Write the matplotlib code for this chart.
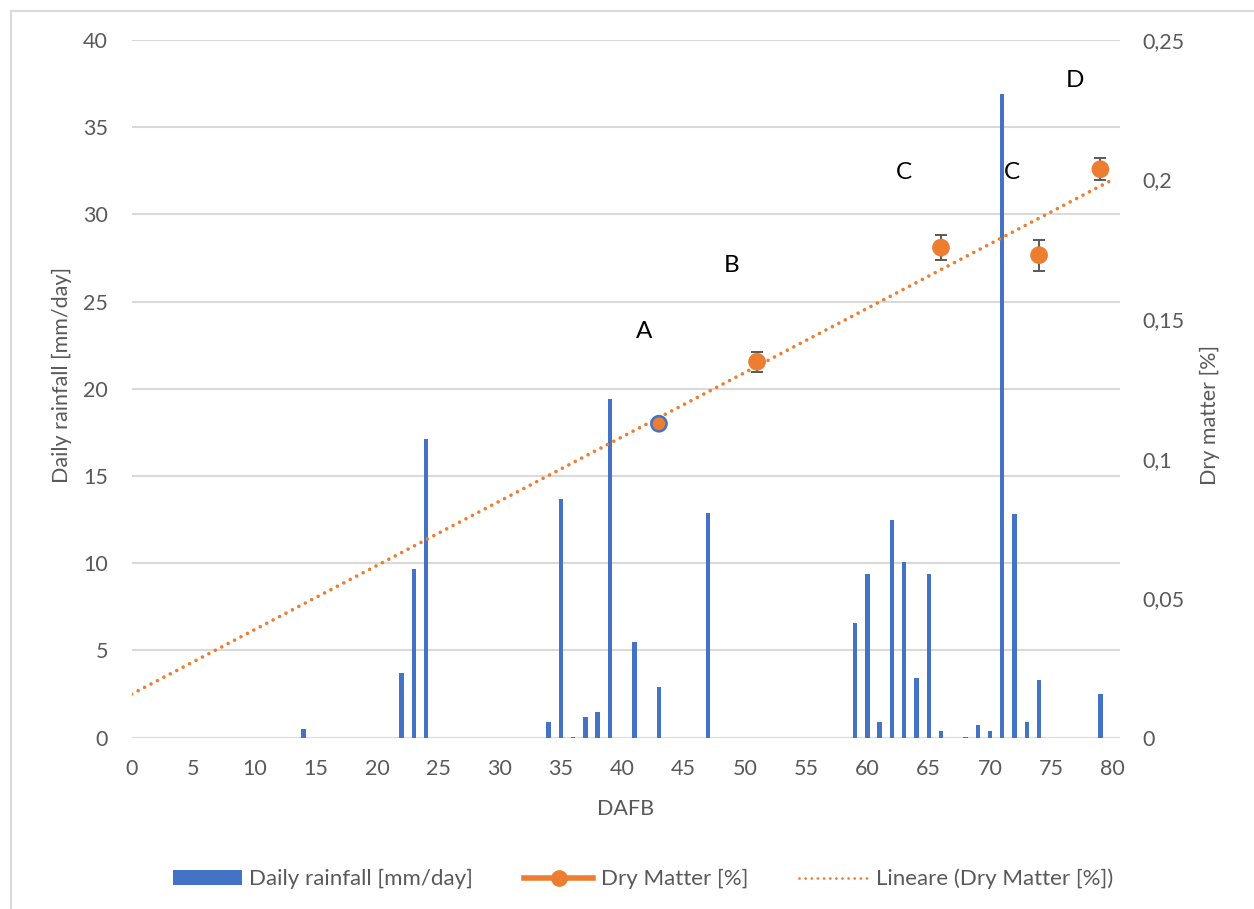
import numpy as np
import matplotlib
matplotlib.use("Agg")
import matplotlib.pyplot as plt
from matplotlib.lines import Line2D
from matplotlib.patches import Patch
from matplotlib.ticker import FixedLocator, FuncFormatter

# Daily rainfall (mm/day) by days after full bloom
rain_days = [14, 22, 23, 24, 34, 35, 36, 37, 38, 39, 41, 43, 47,
             59, 60, 61, 62, 63, 64, 65, 66, 68, 69, 70, 71, 72, 73, 74, 79]
rain_mm = [0.5, 3.7, 9.7, 17.1, 0.9, 13.7, 0.05, 1.2, 1.5, 19.4, 5.5, 2.9, 12.9,
           6.6, 9.4, 0.9, 12.5, 10.1, 3.4, 9.4, 0.4, 0.05, 0.7, 0.4, 36.9, 12.8, 0.9, 3.3, 2.5]

# Dry matter sampling
dm_days = [43, 51, 66, 74, 79]
dm_value = [0.1125, 0.1347, 0.1756, 0.1729, 0.2037]
dm_err = [0.0010, 0.0035, 0.0044, 0.0055, 0.0040]

# Significance letters
letters = ["A", "B", "C", "C", "D"]
letter_x = [41.8, 48.9, 63.0, 71.8, 76.9]
letter_y = [23.3, 27.1, 32.4, 32.4, 37.65]

left_ticks = [0, 5, 10, 15, 20, 25, 30, 35, 40]
right_ticks = [0, 0.05, 0.10, 0.15, 0.20, 0.25]
x_ticks = list(range(0, 81, 5))

BLUE = "#4472C4"
ORANGE = "#ED7D31"
GRID = "#D9D9D9"
TEXT = "#595959"
FONT = "Lato"
FS = 15.5

plt.rcParams["font.family"] = [FONT, "DejaVu Sans"]

W, H = 1254, 909
fig = plt.figure(figsize=(W / 100, H / 100), dpi=100)
fig.patch.set_facecolor("white")

x0, x1, yt, yb = 131.7, 1120, 40, 737.7
ax = fig.add_axes([x0 / W, 1 - yb / H, (x1 - x0) / W, (yb - yt) / H])
ax2 = ax.twinx()

# chart area border
fig.add_artist(Line2D([11 / W, 11 / W], [0, 1 - 11 / H], transform=fig.transFigure,
                      color=GRID, lw=1.5))
fig.add_artist(Line2D([11 / W, 1], [1 - 11 / H, 1 - 11 / H], transform=fig.transFigure,
                      color=GRID, lw=1.5))

# rainfall bars
ax.bar(rain_days, rain_mm, width=0.36, color=BLUE, zorder=2)
ax.set_xlim(0, 80.6)
ax.set_ylim(0, 40)
ax.yaxis.set_major_locator(FixedLocator(left_ticks))
ax.xaxis.set_major_locator(FixedLocator(x_ticks))
ax.grid(axis="y", color=GRID, lw=1.5, zorder=0)
ax.set_axisbelow(True)

# dry matter with error bars and linear trend
ax2.set_ylim(0, 0.25)
ax2.yaxis.set_major_locator(FixedLocator(right_ticks))
ax2.yaxis.set_major_formatter(FuncFormatter(lambda v, p: ("%g" % round(v, 2)).replace(".", ",")))
slope, intercept = np.polyfit(dm_days, dm_value, 1)
tx = np.array([0, 80])
trend, = ax2.plot(tx, slope * tx + intercept, color=ORANGE, lw=2.6,
                  dash_capstyle="round", zorder=3)
trend.set_dashes([0.01, 2.0])
ax2.errorbar(dm_days, dm_value, yerr=dm_err, fmt="none", ecolor=TEXT,
             elinewidth=1.4, capsize=4.5, capthick=1.4, zorder=4)
edge_cols = [BLUE] + [ORANGE] * (len(dm_days) - 1)
ax2.scatter(dm_days, dm_value, s=120, color=ORANGE, edgecolors=edge_cols,
            linewidths=1.8, zorder=5)

for t, lx, ly in zip(letters, letter_x, letter_y):
    ax.text(lx, ly, t, fontsize=17.5, color="black", ha="center", va="center", zorder=6)

for a in (ax, ax2):
    for s in a.spines.values():
        s.set_visible(False)
    a.tick_params(length=0, labelsize=FS, labelcolor=TEXT)
ax.tick_params(axis="y", pad=17)
ax.tick_params(axis="x", pad=15)
ax2.tick_params(axis="y", pad=16)

ax.set_xlabel("DAFB", fontsize=FS, color=TEXT)
ax.xaxis.set_label_coords((626 - x0) / (x1 - x0), (yb - 809) / (yb - yt))
ax.xaxis.label.set_va("center")
ax.set_ylabel("Daily rainfall [mm/day]", fontsize=FS, color=TEXT)
ax.yaxis.set_label_coords((62 - x0) / (x1 - x0), (yb - 375) / (yb - yt))
ax.yaxis.label.set_va("center")
ax2.set_ylabel("Dry matter [%]", fontsize=FS, color=TEXT)
ax2.yaxis.set_label_coords((1210 - x0) / (x1 - x0), (yb - 415) / (yb - yt))
ax2.yaxis.label.set_va("center")

handles = [
    Patch(facecolor=BLUE, edgecolor="none"),
    Line2D([], [], color=ORANGE, lw=4, marker="o", markersize=11),
    Line2D([], [], color=ORANGE, lw=2, linestyle=(0, (0.01, 2.2)), dash_capstyle="round"),
]
labels = ["Daily rainfall [mm/day]", "Dry Matter [%]", "Lineare (Dry Matter [%])"]
leg = fig.legend(handles, labels, loc="center", bbox_to_anchor=(643 / W, 1 - 879 / H),
                 ncol=3, frameon=False, fontsize=16, handlelength=3.1,
                 handletextpad=0.35, columnspacing=2.3, handleheight=0.65)
for t in leg.get_texts():
    t.set_color(TEXT)

fig.savefig("out.png", dpi=100, facecolor="white")
